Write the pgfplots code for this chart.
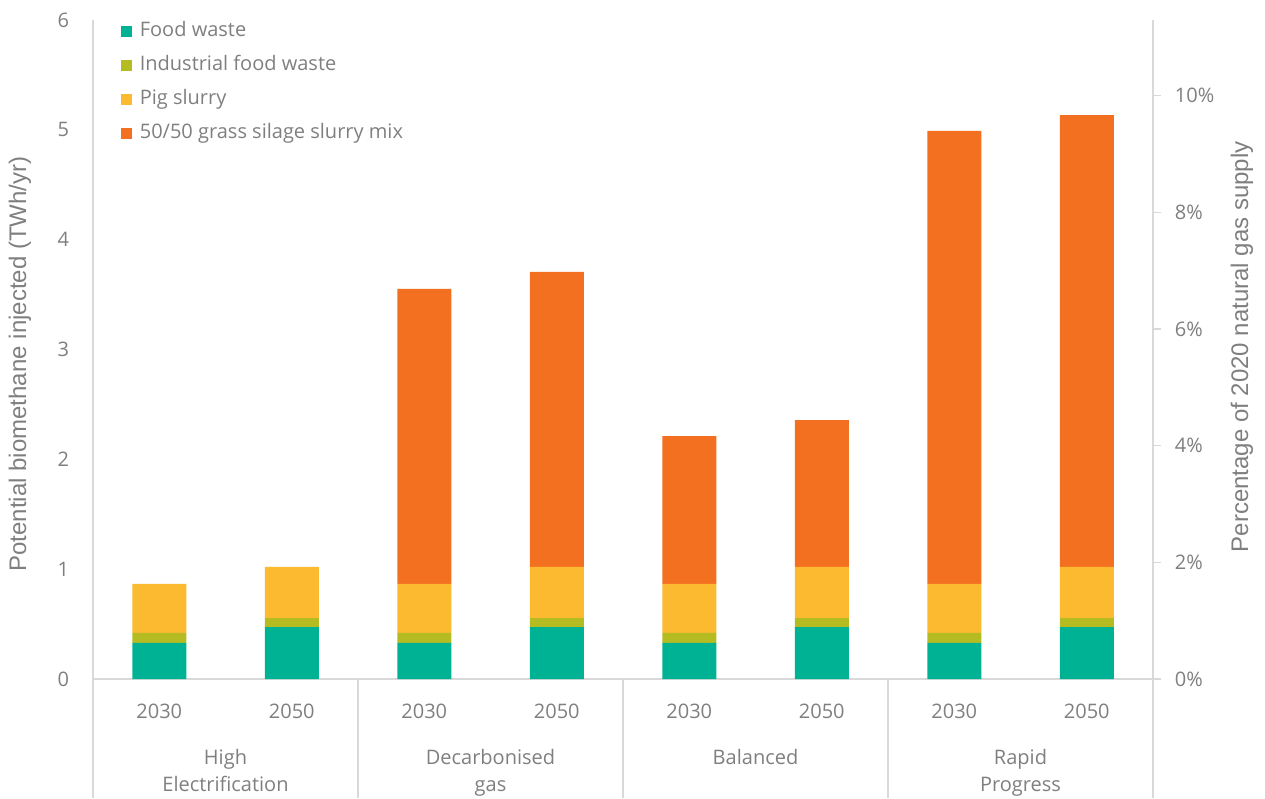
\documentclass[border=0pt]{standalone}
\usepackage{pgfplots}
\pgfplotsset{compat=1.18}
\usepackage{fontspec}
\setmainfont{Open Sans}
\newfontfamily\arialfont{Liberation Sans}
\definecolor{food}{HTML}{00B294}
\definecolor{ind}{HTML}{B4BC22}
\definecolor{pig}{HTML}{FBBA30}
\definecolor{grass}{HTML}{F37021}
\definecolor{txt}{HTML}{7F7F7F}
\definecolor{axl}{HTML}{D9D9D9}
\pgfplotstableread{
x food ind pig grass
0 0.328 0.091 0.446 0
1 0.473 0.082 0.465 0
2 0.328 0.091 0.446 2.686
3 0.473 0.082 0.465 2.686
4 0.328 0.091 0.446 1.347
5 0.473 0.082 0.465 1.338
6 0.328 0.091 0.446 4.125
7 0.473 0.082 0.465 4.115
}\datatable
\begin{document}
\begin{tikzpicture}
\path[use as bounding box] (-55.8pt,-71.4pt) rectangle (703.2pt,407.4pt);
\begin{axis}[
  width=636pt, height=395.4pt, scale only axis,
  xmin=-0.5, xmax=7.5, ymin=0, ymax=6,
  ybar stacked, bar width=32.4pt,
  xtick=data, xticklabels={2030,2050,2030,2050,2030,2050,2030,2050},
  xtick style={draw=none}, ytick style={draw=none},
  ytick={0,1,...,6},
  /pgf/number format/assume math mode=true,
  axis x line*=bottom, axis y line*=left,
  axis line style={-, draw=axl, line width=0.8pt},
  tick label style={font=\fontsize{12}{14}\selectfont, text=txt},
  xticklabel style={yshift=-11.5pt},
  yticklabel style={xshift=-10.9pt},
  ylabel={Potential biomethane injected (TWh/yr)},
  ylabel style={font=\arialfont\fontsize{14.4}{16}\selectfont, text=txt,
    at={([xshift=-43.8pt]axis description cs:0,0.478)}, anchor=center},
  clip=false,
  legend cell align=left,
  legend style={at={(axis description cs:0,1)}, anchor=north west,
    xshift=13.8pt, yshift=3pt, draw=none, fill=none,
    font=\fontsize{12}{14}\selectfont, text=txt,
    nodes={inner sep=1.5pt, text height=9pt, text depth=3pt},
    row sep=5.4pt},
  legend image code/.code={\draw[#1,draw=none] (0pt,-3.3pt) rectangle (6.6pt,3.3pt);},
  legend style={/tikz/every odd column/.append style={column sep=3pt}},
]
\addplot[fill=food, draw=none] table[x=x,y=food]{\datatable};
\addlegendentry{Food waste}
\addplot[fill=ind, draw=none] table[x=x,y=ind]{\datatable};
\addlegendentry{Industrial food waste}
\addplot[fill=pig, draw=none] table[x=x,y=pig]{\datatable};
\addlegendentry{Pig slurry}
\addplot[fill=grass, draw=none] table[x=x,y=grass]{\datatable};
\addlegendentry{50/50 grass silage slurry mix}
\draw[axl, line width=0.8pt] (axis cs:-0.5,0) -- ([yshift=-71.4pt]axis cs:-0.5,0);
\draw[axl, line width=0.8pt] (axis cs:1.5,0) -- ([yshift=-71.4pt]axis cs:1.5,0);
\draw[axl, line width=0.8pt] (axis cs:3.5,0) -- ([yshift=-71.4pt]axis cs:3.5,0);
\draw[axl, line width=0.8pt] (axis cs:5.5,0) -- ([yshift=-71.4pt]axis cs:5.5,0);
\draw[axl, line width=0.8pt] (axis cs:7.5,0) -- ([yshift=-71.4pt]axis cs:7.5,0);
\node[font=\fontsize{12}{16.2}\selectfont, text=txt, align=center, anchor=north] at ([yshift=-38.6pt]axis cs:0.5,0) {High\\Electrification};
\node[font=\fontsize{12}{16.2}\selectfont, text=txt, align=center, anchor=north] at ([yshift=-38.6pt]axis cs:2.5,0) {Decarbonised\\gas};
\node[font=\fontsize{12}{16.2}\selectfont, text=txt, align=center, anchor=north] at ([yshift=-38.6pt]axis cs:4.5,0) {Balanced};
\node[font=\fontsize{12}{16.2}\selectfont, text=txt, align=center, anchor=north] at ([yshift=-38.6pt]axis cs:6.5,0) {Rapid\\Progress};
\end{axis}
\begin{axis}[
  width=636pt, height=395.4pt, scale only axis,
  xmin=0, xmax=1, ymin=0, ymax=11.30,
  axis x line=none, axis y line*=right,
  axis line style={-, draw=axl, line width=0.8pt},
  ytick={0,2,...,10},
  /pgf/number format/assume math mode=true,
  yticklabel={\pgfmathprintnumber{\tick}\%},
  tick align=outside, major tick length=4.8pt,
  ytick style={draw=axl, line width=0.8pt},
  tick label style={font=\fontsize{12}{14}\selectfont, text=txt},
  yticklabel style={xshift=4.8pt},
  ylabel={Percentage of 2020 natural gas supply},
  ylabel style={font=\arialfont\fontsize{14.4}{16}\selectfont, text=txt,
    at={([xshift=53.4pt]axis description cs:1,0.504)}, anchor=center},
]
\end{axis}
\end{tikzpicture}
\end{document}
